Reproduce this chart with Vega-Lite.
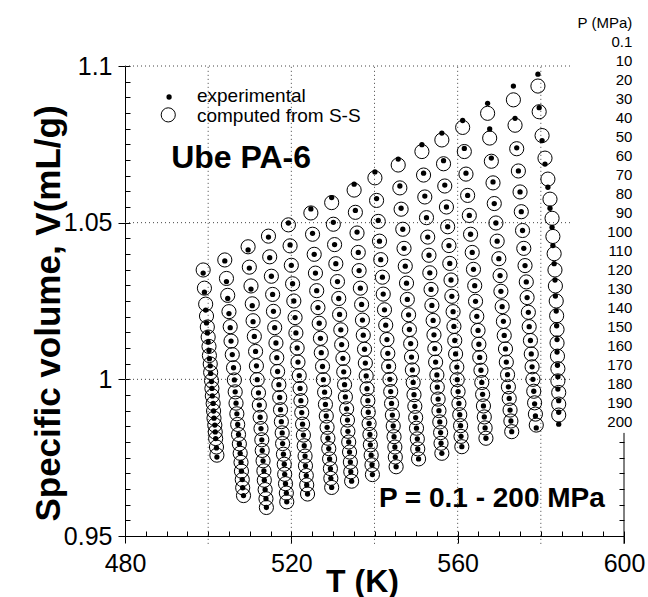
{
  "$schema": "https://vega.github.io/schema/vega-lite/v6.json",
  "width": 499,
  "height": 470,
  "autosize": "none",
  "padding": {"left": 125, "top": 66, "right": 24, "bottom": 61},
  "background": "white",
  "config": {
    "view": {"stroke": null},
    "font": "Liberation Sans",
    "axis": {"labelFont": "Liberation Sans", "titleFont": "Liberation Sans", "labelColor": "black", "titleColor": "black", "tickColor": "black", "domainColor": "black", "grid": false, "tickWidth": 1, "domainWidth": 1},
    "text": {"font": "Liberation Sans", "color": "black"}
  },
  "datasets": {
    "vgrid": [{"T": 500}, {"T": 520}, {"T": 540}, {"T": 560}, {"T": 580}],
    "hgrid": [{"v": 1.1}, {"v": 1.05}, {"v": 1.0}],
    "plabels": [
      {"i": 0, "label": "P (MPa)"}, {"i": 1, "label": "0.1"}, {"i": 2, "label": "10"}, {"i": 3, "label": "20"},
      {"i": 4, "label": "30"}, {"i": 5, "label": "40"}, {"i": 6, "label": "50"}, {"i": 7, "label": "60"},
      {"i": 8, "label": "70"}, {"i": 9, "label": "80"}, {"i": 10, "label": "90"}, {"i": 11, "label": "100"},
      {"i": 12, "label": "110"}, {"i": 13, "label": "120"}, {"i": 14, "label": "130"}, {"i": 15, "label": "140"},
      {"i": 16, "label": "150"}, {"i": 17, "label": "160"}, {"i": 18, "label": "170"}, {"i": 19, "label": "180"},
      {"i": 20, "label": "190"}, {"i": 21, "label": "200"}
    ],
    "pvt": [
      {"T":498.8,"vc":1.0349,"ve":1.0339},{"T":499.1,"vc":1.0291,"ve":1.0278},{"T":499.4,"vc":1.0240,"ve":1.0221},{"T":499.6,"vc":1.0202,"ve":1.0180},{"T":499.8,"vc":1.0167,"ve":1.0148},{"T":500.0,"vc":1.0135,"ve":1.0119},{"T":500.2,"vc":1.0105,"ve":1.0092},{"T":500.3,"vc":1.0076,"ve":1.0066},{"T":500.5,"vc":1.0049,"ve":1.0043},{"T":500.6,"vc":1.0022,"ve":1.0019},{"T":500.8,"vc":0.9996,"ve":0.9993},{"T":500.9,"vc":0.9971,"ve":0.9971},{"T":501.0,"vc":0.9947,"ve":0.9947},{"T":501.2,"vc":0.9923,"ve":0.9923},{"T":501.3,"vc":0.9899,"ve":0.9899},{"T":501.4,"vc":0.9876,"ve":0.9876},{"T":501.6,"vc":0.9854,"ve":0.9854},{"T":501.7,"vc":0.9832,"ve":0.9832},{"T":501.8,"vc":0.9811,"ve":0.9811},{"T":502.0,"vc":0.9784,"ve":0.9781},{"T":502.1,"vc":0.9758,"ve":0.9752},
      {"T":504.0,"vc":1.0381,"ve":1.0378},{"T":504.4,"vc":1.0322,"ve":1.0312},{"T":504.7,"vc":1.0268,"ve":1.0258},{"T":505.0,"vc":1.0216,"ve":1.0210},{"T":505.3,"vc":1.0168,"ve":1.0165},{"T":505.5,"vc":1.0122,"ve":1.0122},{"T":505.8,"vc":1.0079,"ve":1.0079},{"T":506.1,"vc":1.0037,"ve":1.0037},{"T":506.3,"vc":0.9998,"ve":0.9998},{"T":506.5,"vc":0.9960,"ve":0.9960},{"T":506.7,"vc":0.9924,"ve":0.9924},{"T":506.9,"vc":0.9890,"ve":0.9890},{"T":507.1,"vc":0.9856,"ve":0.9856},{"T":507.3,"vc":0.9824,"ve":0.9824},{"T":507.5,"vc":0.9794,"ve":0.9794},{"T":507.7,"vc":0.9764,"ve":0.9764},{"T":507.9,"vc":0.9735,"ve":0.9735},{"T":508.0,"vc":0.9707,"ve":0.9707},{"T":508.2,"vc":0.9680,"ve":0.9680},{"T":508.3,"vc":0.9654,"ve":0.9654},{"T":508.5,"vc":0.9629,"ve":0.9629},
      {"T":509.6,"vc":1.0423,"ve":1.0413},{"T":509.9,"vc":1.0358,"ve":1.0355},{"T":510.3,"vc":1.0298,"ve":1.0288},{"T":510.6,"vc":1.0241,"ve":1.0235},{"T":510.8,"vc":1.0187,"ve":1.0184},{"T":511.1,"vc":1.0137,"ve":1.0137},{"T":511.4,"vc":1.0089,"ve":1.0089},{"T":511.6,"vc":1.0043,"ve":1.0043},{"T":511.8,"vc":0.9999,"ve":0.9999},{"T":512.1,"vc":0.9957,"ve":0.9957},{"T":512.3,"vc":0.9918,"ve":0.9918},{"T":512.5,"vc":0.9879,"ve":0.9879},{"T":512.7,"vc":0.9843,"ve":0.9843},{"T":512.9,"vc":0.9807,"ve":0.9807},{"T":513.0,"vc":0.9773,"ve":0.9773},{"T":513.2,"vc":0.9740,"ve":0.9740},{"T":513.4,"vc":0.9708,"ve":0.9708},{"T":513.5,"vc":0.9678,"ve":0.9678},{"T":513.7,"vc":0.9648,"ve":0.9648},{"T":513.9,"vc":0.9619,"ve":0.9619},{"T":514.0,"vc":0.9591,"ve":0.9591},
      {"T":514.5,"vc":1.0457,"ve":1.0454},{"T":514.8,"vc":1.0391,"ve":1.0388},{"T":515.2,"vc":1.0329,"ve":1.0329},{"T":515.5,"vc":1.0271,"ve":1.0271},{"T":515.7,"vc":1.0217,"ve":1.0217},{"T":516.0,"vc":1.0165,"ve":1.0165},{"T":516.3,"vc":1.0116,"ve":1.0116},{"T":516.5,"vc":1.0069,"ve":1.0069},{"T":516.7,"vc":1.0025,"ve":1.0025},{"T":517.0,"vc":0.9983,"ve":0.9983},{"T":517.2,"vc":0.9942,"ve":0.9942},{"T":517.4,"vc":0.9903,"ve":0.9903},{"T":517.6,"vc":0.9865,"ve":0.9865},{"T":517.8,"vc":0.9829,"ve":0.9829},{"T":517.9,"vc":0.9795,"ve":0.9795},{"T":518.1,"vc":0.9761,"ve":0.9761},{"T":518.3,"vc":0.9729,"ve":0.9729},{"T":518.4,"vc":0.9697,"ve":0.9697},{"T":518.6,"vc":0.9667,"ve":0.9667},{"T":518.8,"vc":0.9637,"ve":0.9637},{"T":518.9,"vc":0.9609,"ve":0.9609},
      {"T":519.3,"vc":1.0493,"ve":1.0499},{"T":519.7,"vc":1.0426,"ve":1.0429},{"T":520.0,"vc":1.0364,"ve":1.0364},{"T":520.3,"vc":1.0305,"ve":1.0305},{"T":520.6,"vc":1.0250,"ve":1.0250},{"T":520.9,"vc":1.0197,"ve":1.0197},{"T":521.1,"vc":1.0148,"ve":1.0148},{"T":521.4,"vc":1.0100,"ve":1.0100},{"T":521.6,"vc":1.0055,"ve":1.0055},{"T":521.9,"vc":1.0012,"ve":1.0012},{"T":522.1,"vc":0.9971,"ve":0.9971},{"T":522.3,"vc":0.9932,"ve":0.9932},{"T":522.5,"vc":0.9894,"ve":0.9894},{"T":522.7,"vc":0.9857,"ve":0.9857},{"T":522.9,"vc":0.9822,"ve":0.9822},{"T":523.1,"vc":0.9788,"ve":0.9788},{"T":523.3,"vc":0.9755,"ve":0.9755},{"T":523.4,"vc":0.9724,"ve":0.9724},{"T":523.6,"vc":0.9693,"ve":0.9693},{"T":523.7,"vc":0.9663,"ve":0.9663},{"T":523.9,"vc":0.9634,"ve":0.9634},
      {"T":524.7,"vc":1.0531,"ve":1.0544},{"T":525.1,"vc":1.0463,"ve":1.0466},{"T":525.5,"vc":1.0399,"ve":1.0399},{"T":525.8,"vc":1.0339,"ve":1.0339},{"T":526.1,"vc":1.0283,"ve":1.0283},{"T":526.4,"vc":1.0229,"ve":1.0229},{"T":526.7,"vc":1.0179,"ve":1.0179},{"T":527.0,"vc":1.0131,"ve":1.0131},{"T":527.2,"vc":1.0085,"ve":1.0085},{"T":527.5,"vc":1.0041,"ve":1.0041},{"T":527.7,"vc":0.9999,"ve":0.9999},{"T":528.0,"vc":0.9959,"ve":0.9959},{"T":528.2,"vc":0.9920,"ve":0.9920},{"T":528.4,"vc":0.9883,"ve":0.9883},{"T":528.6,"vc":0.9847,"ve":0.9847},{"T":528.8,"vc":0.9812,"ve":0.9812},{"T":529.0,"vc":0.9779,"ve":0.9779},{"T":529.2,"vc":0.9746,"ve":0.9746},{"T":529.4,"vc":0.9715,"ve":0.9715},{"T":529.5,"vc":0.9684,"ve":0.9684},{"T":529.7,"vc":0.9655,"ve":0.9655},
      {"T":529.7,"vc":1.0564,"ve":1.0580},{"T":530.1,"vc":1.0495,"ve":1.0501},{"T":530.4,"vc":1.0430,"ve":1.0430},{"T":530.7,"vc":1.0369,"ve":1.0369},{"T":531.1,"vc":1.0312,"ve":1.0312},{"T":531.4,"vc":1.0258,"ve":1.0258},{"T":531.6,"vc":1.0207,"ve":1.0207},{"T":531.9,"vc":1.0158,"ve":1.0158},{"T":532.1,"vc":1.0111,"ve":1.0111},{"T":532.4,"vc":1.0067,"ve":1.0067},{"T":532.6,"vc":1.0024,"ve":1.0024},{"T":532.8,"vc":0.9983,"ve":0.9983},{"T":533.0,"vc":0.9944,"ve":0.9944},{"T":533.3,"vc":0.9906,"ve":0.9906},{"T":533.5,"vc":0.9870,"ve":0.9870},{"T":533.6,"vc":0.9834,"ve":0.9834},{"T":533.8,"vc":0.9800,"ve":0.9800},{"T":534.0,"vc":0.9768,"ve":0.9768},{"T":534.2,"vc":0.9736,"ve":0.9736},{"T":534.3,"vc":0.9705,"ve":0.9705},{"T":534.5,"vc":0.9675,"ve":0.9675},
      {"T":535.1,"vc":1.0604,"ve":1.0623},{"T":535.4,"vc":1.0533,"ve":1.0539},{"T":535.8,"vc":1.0467,"ve":1.0470},{"T":536.1,"vc":1.0405,"ve":1.0405},{"T":536.3,"vc":1.0347,"ve":1.0347},{"T":536.6,"vc":1.0291,"ve":1.0291},{"T":536.9,"vc":1.0239,"ve":1.0239},{"T":537.1,"vc":1.0189,"ve":1.0189},{"T":537.3,"vc":1.0141,"ve":1.0141},{"T":537.6,"vc":1.0096,"ve":1.0096},{"T":537.8,"vc":1.0052,"ve":1.0052},{"T":538.0,"vc":1.0011,"ve":1.0011},{"T":538.2,"vc":0.9970,"ve":0.9970},{"T":538.4,"vc":0.9932,"ve":0.9932},{"T":538.5,"vc":0.9895,"ve":0.9895},{"T":538.7,"vc":0.9859,"ve":0.9859},{"T":538.9,"vc":0.9824,"ve":0.9824},{"T":539.0,"vc":0.9791,"ve":0.9791},{"T":539.2,"vc":0.9758,"ve":0.9758},{"T":539.4,"vc":0.9727,"ve":0.9727},{"T":539.5,"vc":0.9696,"ve":0.9696},
      {"T":540.1,"vc":1.0643,"ve":1.0662},{"T":540.5,"vc":1.0571,"ve":1.0577},{"T":540.9,"vc":1.0504,"ve":1.0507},{"T":541.2,"vc":1.0441,"ve":1.0441},{"T":541.5,"vc":1.0382,"ve":1.0382},{"T":541.9,"vc":1.0326,"ve":1.0326},{"T":542.1,"vc":1.0272,"ve":1.0272},{"T":542.4,"vc":1.0222,"ve":1.0222},{"T":542.7,"vc":1.0173,"ve":1.0173},{"T":543.0,"vc":1.0127,"ve":1.0127},{"T":543.2,"vc":1.0083,"ve":1.0083},{"T":543.4,"vc":1.0041,"ve":1.0041},{"T":543.7,"vc":1.0000,"ve":1.0000},{"T":543.9,"vc":0.9961,"ve":0.9961},{"T":544.1,"vc":0.9923,"ve":0.9923},{"T":544.3,"vc":0.9886,"ve":0.9886},{"T":544.5,"vc":0.9851,"ve":0.9851},{"T":544.7,"vc":0.9817,"ve":0.9817},{"T":544.9,"vc":0.9784,"ve":0.9784},{"T":545.0,"vc":0.9752,"ve":0.9752},{"T":545.2,"vc":0.9721,"ve":0.9721},
      {"T":545.7,"vc":1.0684,"ve":1.0703},{"T":546.1,"vc":1.0611,"ve":1.0617},{"T":546.4,"vc":1.0543,"ve":1.0546},{"T":546.8,"vc":1.0479,"ve":1.0479},{"T":547.1,"vc":1.0418,"ve":1.0418},{"T":547.4,"vc":1.0361,"ve":1.0361},{"T":547.7,"vc":1.0307,"ve":1.0307},{"T":547.9,"vc":1.0255,"ve":1.0255},{"T":548.2,"vc":1.0206,"ve":1.0206},{"T":548.4,"vc":1.0159,"ve":1.0159},{"T":548.7,"vc":1.0114,"ve":1.0114},{"T":548.9,"vc":1.0071,"ve":1.0071},{"T":549.1,"vc":1.0030,"ve":1.0030},{"T":549.3,"vc":0.9990,"ve":0.9990},{"T":549.5,"vc":0.9951,"ve":0.9951},{"T":549.7,"vc":0.9914,"ve":0.9914},{"T":549.9,"vc":0.9878,"ve":0.9878},{"T":550.1,"vc":0.9844,"ve":0.9844},{"T":550.3,"vc":0.9810,"ve":0.9810},{"T":550.4,"vc":0.9778,"ve":0.9778},{"T":550.6,"vc":0.9746,"ve":0.9746},
      {"T":551.4,"vc":1.0727,"ve":1.0749},{"T":551.8,"vc":1.0652,"ve":1.0658},{"T":552.1,"vc":1.0582,"ve":1.0585},{"T":552.5,"vc":1.0516,"ve":1.0516},{"T":552.8,"vc":1.0454,"ve":1.0454},{"T":553.1,"vc":1.0396,"ve":1.0396},{"T":553.3,"vc":1.0340,"ve":1.0340},{"T":553.6,"vc":1.0287,"ve":1.0287},{"T":553.8,"vc":1.0236,"ve":1.0236},{"T":554.1,"vc":1.0188,"ve":1.0188},{"T":554.3,"vc":1.0142,"ve":1.0142},{"T":554.5,"vc":1.0098,"ve":1.0098},{"T":554.7,"vc":1.0055,"ve":1.0055},{"T":555.0,"vc":1.0014,"ve":1.0014},{"T":555.1,"vc":0.9975,"ve":0.9975},{"T":555.3,"vc":0.9937,"ve":0.9937},{"T":555.5,"vc":0.9900,"ve":0.9900},{"T":555.7,"vc":0.9864,"ve":0.9864},{"T":555.9,"vc":0.9830,"ve":0.9830},{"T":556.0,"vc":0.9796,"ve":0.9796},{"T":556.2,"vc":0.9764,"ve":0.9764},
      {"T":556.2,"vc":1.0764,"ve":1.0786},{"T":556.6,"vc":1.0688,"ve":1.0698},{"T":556.9,"vc":1.0617,"ve":1.0620},{"T":557.3,"vc":1.0550,"ve":1.0550},{"T":557.6,"vc":1.0487,"ve":1.0487},{"T":557.9,"vc":1.0427,"ve":1.0427},{"T":558.1,"vc":1.0370,"ve":1.0370},{"T":558.4,"vc":1.0317,"ve":1.0317},{"T":558.6,"vc":1.0265,"ve":1.0265},{"T":558.9,"vc":1.0216,"ve":1.0216},{"T":559.1,"vc":1.0169,"ve":1.0169},{"T":559.3,"vc":1.0124,"ve":1.0124},{"T":559.5,"vc":1.0081,"ve":1.0081},{"T":559.8,"vc":1.0039,"ve":1.0039},{"T":559.9,"vc":0.9999,"ve":0.9999},{"T":560.1,"vc":0.9961,"ve":0.9961},{"T":560.3,"vc":0.9923,"ve":0.9923},{"T":560.5,"vc":0.9887,"ve":0.9887},{"T":560.7,"vc":0.9852,"ve":0.9852},{"T":560.8,"vc":0.9818,"ve":0.9818},{"T":561.0,"vc":0.9785,"ve":0.9785},
      {"T":561.2,"vc":1.0804,"ve":1.0826},{"T":561.6,"vc":1.0727,"ve":1.0737},{"T":562.0,"vc":1.0655,"ve":1.0658},{"T":562.4,"vc":1.0587,"ve":1.0587},{"T":562.8,"vc":1.0523,"ve":1.0523},{"T":563.1,"vc":1.0463,"ve":1.0463},{"T":563.5,"vc":1.0405,"ve":1.0405},{"T":563.8,"vc":1.0351,"ve":1.0351},{"T":564.1,"vc":1.0299,"ve":1.0299},{"T":564.3,"vc":1.0249,"ve":1.0249},{"T":564.6,"vc":1.0201,"ve":1.0201},{"T":564.9,"vc":1.0156,"ve":1.0156},{"T":565.1,"vc":1.0112,"ve":1.0112},{"T":565.3,"vc":1.0070,"ve":1.0070},{"T":565.6,"vc":1.0029,"ve":1.0029},{"T":565.8,"vc":0.9990,"ve":0.9990},{"T":566.0,"vc":0.9952,"ve":0.9952},{"T":566.2,"vc":0.9915,"ve":0.9915},{"T":566.4,"vc":0.9880,"ve":0.9880},{"T":566.6,"vc":0.9845,"ve":0.9845},{"T":566.8,"vc":0.9812,"ve":0.9812},
      {"T":567.2,"vc":1.0849,"ve":1.0881},{"T":567.7,"vc":1.0770,"ve":1.0799},{"T":568.1,"vc":1.0696,"ve":1.0706},{"T":568.5,"vc":1.0627,"ve":1.0630},{"T":568.8,"vc":1.0561,"ve":1.0561},{"T":569.2,"vc":1.0499,"ve":1.0499},{"T":569.5,"vc":1.0441,"ve":1.0441},{"T":569.9,"vc":1.0385,"ve":1.0385},{"T":570.2,"vc":1.0331,"ve":1.0331},{"T":570.4,"vc":1.0281,"ve":1.0281},{"T":570.7,"vc":1.0232,"ve":1.0232},{"T":571.0,"vc":1.0185,"ve":1.0185},{"T":571.2,"vc":1.0140,"ve":1.0140},{"T":571.5,"vc":1.0097,"ve":1.0097},{"T":571.7,"vc":1.0055,"ve":1.0055},{"T":572.0,"vc":1.0015,"ve":1.0015},{"T":572.2,"vc":0.9976,"ve":0.9976},{"T":572.4,"vc":0.9939,"ve":0.9939},{"T":572.6,"vc":0.9902,"ve":0.9902},{"T":572.8,"vc":0.9867,"ve":0.9867},{"T":573.0,"vc":0.9833,"ve":0.9833},
      {"T":573.4,"vc":1.0892,"ve":1.0936},{"T":573.8,"vc":1.0811,"ve":1.0833},{"T":574.2,"vc":1.0736,"ve":1.0739},{"T":574.6,"vc":1.0665,"ve":1.0665},{"T":575.0,"vc":1.0598,"ve":1.0598},{"T":575.3,"vc":1.0535,"ve":1.0535},{"T":575.6,"vc":1.0475,"ve":1.0475},{"T":575.9,"vc":1.0418,"ve":1.0418},{"T":576.2,"vc":1.0363,"ve":1.0363},{"T":576.5,"vc":1.0311,"ve":1.0311},{"T":576.7,"vc":1.0261,"ve":1.0261},{"T":577.0,"vc":1.0214,"ve":1.0214},{"T":577.2,"vc":1.0168,"ve":1.0168},{"T":577.5,"vc":1.0124,"ve":1.0124},{"T":577.7,"vc":1.0081,"ve":1.0081},{"T":577.9,"vc":1.0040,"ve":1.0040},{"T":578.1,"vc":1.0000,"ve":1.0000},{"T":578.3,"vc":0.9962,"ve":0.9962},{"T":578.5,"vc":0.9925,"ve":0.9922},{"T":578.7,"vc":0.9889,"ve":0.9883},{"T":578.9,"vc":0.9854,"ve":0.9845},
      {"T":579.3,"vc":1.0936,"ve":1.0974},{"T":579.6,"vc":1.0854,"ve":1.0867},{"T":580.3,"vc":1.0778,"ve":1.0762},{"T":581.0,"vc":1.0706,"ve":1.0687},{"T":581.7,"vc":1.0639,"ve":1.0613},{"T":582.2,"vc":1.0575,"ve":1.0546},{"T":582.7,"vc":1.0514,"ve":1.0485},{"T":582.9,"vc":1.0456,"ve":1.0427},{"T":583.2,"vc":1.0401,"ve":1.0369},{"T":583.4,"vc":1.0349,"ve":1.0317},{"T":583.5,"vc":1.0298,"ve":1.0266},{"T":583.7,"vc":1.0250,"ve":1.0218},{"T":583.8,"vc":1.0203,"ve":1.0171},{"T":583.9,"vc":1.0159,"ve":1.0127},{"T":583.9,"vc":1.0116,"ve":1.0087},{"T":584.0,"vc":1.0074,"ve":1.0045},{"T":584.1,"vc":1.0034,"ve":1.0008},{"T":584.1,"vc":0.9995,"ve":0.9969},{"T":584.3,"vc":0.9958,"ve":0.9932},{"T":584.3,"vc":0.9921,"ve":0.9895},{"T":584.3,"vc":0.9886,"ve":0.9857}
    ]
  },
  "layer": [
    {
      "layer": [
        {
          "data": {"name": "vgrid"},
          "mark": {"type": "rule", "color": "#444", "strokeDash": [1, 3], "strokeWidth": 1},
          "encoding": {
            "x": {"field": "T", "type": "quantitative", "scale": {"domain": [480, 600], "nice": false, "zero": false},
                  "axis": {"orient": "bottom", "values": [480,485,490,495,500,505,510,515,520,525,530,535,540,545,550,555,560,565,570,575,580,585,590,595,600], "tickSize": -5, "labels": false, "domain": false, "title": null}},
            "y": {"datum": 0.9475, "scale": {"domain": [0.95, 1.1], "nice": false, "zero": false}, "axis": null},
            "y2": {"datum": 1.1}
          }
        },
        {
          "data": {"name": "hgrid"},
          "mark": {"type": "rule", "color": "#444", "strokeDash": [1, 3], "strokeWidth": 1},
          "encoding": {
            "y": {"field": "v", "type": "quantitative", "scale": {"domain": [0.95, 1.1], "nice": false, "zero": false},
                  "axis": {"orient": "left", "values": [0.95,0.955,0.96,0.965,0.97,0.975,0.98,0.985,0.99,0.995,1.0,1.005,1.01,1.015,1.02,1.025,1.03,1.035,1.04,1.045,1.05,1.055,1.06,1.065,1.07,1.075,1.08,1.085,1.09,1.095,1.1], "tickSize": -5, "labels": false, "domain": false, "title": null}},
            "x": {"datum": 480, "scale": {"domain": [480, 600], "nice": false, "zero": false}, "axis": null},
            "x2": {"datum": 587.7}
          }
        },
        {
          "data": {"values": [{}]},
          "mark": {"type": "rule", "color": "black", "strokeWidth": 1},
          "encoding": {
            "x": {"datum": 600, "scale": {"domain": [480, 600], "nice": false, "zero": false}, "axis": null},
            "y": {"datum": 0.9475, "scale": {"domain": [0.95, 1.1], "nice": false, "zero": false},
                  "axis": {"orient": "right", "values": [0.955,0.96,0.965,0.97,0.975,0.98], "tickSize": -5, "labels": false, "domain": false, "title": null}},
            "y2": {"datum": 0.9829}
          }
        },
        {
          "data": {"name": "pvt"},
          "mark": {"type": "point", "shape": "circle", "filled": false, "stroke": "black", "strokeWidth": 1, "size": 200, "opacity": 1},
          "encoding": {
            "x": {"field": "T", "type": "quantitative", "scale": {"domain": [480, 600], "nice": false, "zero": false},
                  "axis": {"orient": "bottom", "values": [480, 520, 560, 600], "format": "d", "tickSize": 7, "labelPadding": 8, "labelFontSize": 25, "labelFlush": false, "labelOverlap": false,
                           "title": "T (K)", "titleFontSize": 32, "titleFontWeight": "bold", "titleX": 237, "titleY": 55, "titleBaseline": "alphabetic", "titleAlign": "center"}},
            "y": {"field": "vc", "type": "quantitative", "scale": {"domain": [0.95, 1.1], "nice": false, "zero": false},
                  "axis": {"orient": "left", "values": [0.95, 1, 1.05, 1.1], "format": "~g", "tickSize": 7, "labelPadding": 6, "labelFontSize": 25, "labelFlush": false, "labelOverlap": false,
                           "title": "Specific volume, V(mL/g)", "titleFontSize": 35, "titleFontWeight": "bold", "titleAngle": -90, "titleX": -66, "titleY": 247, "titleBaseline": "alphabetic", "titleAlign": "center"}}
          }
        },
        {
          "data": {"name": "pvt"},
          "mark": {"type": "point", "shape": "circle", "filled": true, "color": "black", "strokeWidth": 0, "size": 28, "opacity": 1},
          "encoding": {
            "x": {"field": "T", "type": "quantitative", "scale": {"domain": [480, 600], "nice": false, "zero": false}, "axis": null},
            "y": {"field": "ve", "type": "quantitative", "scale": {"domain": [0.95, 1.1], "nice": false, "zero": false}, "axis": null}
          }
        },
        {
          "data": {"values": [{}]},
          "mark": {"type": "point", "shape": "circle", "filled": true, "color": "black", "strokeWidth": 0, "size": 28, "opacity": 1},
          "encoding": {
            "x": {"datum": 490.6, "scale": {"domain": [480, 600], "nice": false, "zero": false}, "axis": null},
            "y": {"datum": 1.0901, "scale": {"domain": [0.95, 1.1], "nice": false, "zero": false}, "axis": null}
          }
        },
        {
          "data": {"values": [{}]},
          "mark": {"type": "point", "shape": "circle", "filled": false, "stroke": "black", "strokeWidth": 1, "size": 200, "opacity": 1},
          "encoding": {
            "x": {"datum": 490.4, "scale": {"domain": [480, 600], "nice": false, "zero": false}, "axis": null},
            "y": {"datum": 1.0844, "scale": {"domain": [0.95, 1.1], "nice": false, "zero": false}, "axis": null}
          }
        },
        {
          "data": {"values": [{}]},
          "mark": {"type": "text", "text": "experimental", "fontSize": 19, "align": "left", "baseline": "middle"},
          "encoding": {
            "x": {"datum": 497.3, "scale": {"domain": [480, 600], "nice": false, "zero": false}, "axis": null},
            "y": {"datum": 1.0903, "scale": {"domain": [0.95, 1.1], "nice": false, "zero": false}, "axis": null}
          }
        },
        {
          "data": {"values": [{}]},
          "mark": {"type": "text", "text": "computed from S-S", "fontSize": 19, "align": "left", "baseline": "middle"},
          "encoding": {
            "x": {"datum": 497.3, "scale": {"domain": [480, 600], "nice": false, "zero": false}, "axis": null},
            "y": {"datum": 1.0842, "scale": {"domain": [0.95, 1.1], "nice": false, "zero": false}, "axis": null}
          }
        },
        {
          "data": {"values": [{}]},
          "mark": {"type": "text", "text": "Ube PA-6", "fontSize": 32, "fontWeight": "bold", "align": "left", "baseline": "alphabetic"},
          "encoding": {
            "x": {"datum": 491.1, "scale": {"domain": [480, 600], "nice": false, "zero": false}, "axis": null},
            "y": {"datum": 1.0674, "scale": {"domain": [0.95, 1.1], "nice": false, "zero": false}, "axis": null}
          }
        },
        {
          "data": {"values": [{}]},
          "mark": {"type": "text", "text": "P = 0.1 - 200 MPa", "fontSize": 28, "fontWeight": "bold", "align": "right", "baseline": "alphabetic"},
          "encoding": {
            "x": {"datum": 595.4, "scale": {"domain": [480, 600], "nice": false, "zero": false}, "axis": null},
            "y": {"datum": 0.9592, "scale": {"domain": [0.95, 1.1], "nice": false, "zero": false}, "axis": null}
          }
        }
      ],
      "resolve": {"axis": {"x": "independent", "y": "independent"}}
    },
    {
      "data": {"name": "plabels"},
      "mark": {"type": "text", "fontSize": 15, "align": "right", "baseline": "middle"},
      "encoding": {
        "x": {"datum": 602, "scale": {"domain": [480, 600], "nice": false, "zero": false}, "axis": null},
        "y": {"field": "i", "type": "quantitative", "scale": {"domain": [2.263, 27], "reverse": true, "nice": false, "zero": false}, "axis": null},
        "text": {"field": "label", "type": "nominal"}
      }
    }
  ],
  "resolve": {"scale": {"y": "independent"}}
}
